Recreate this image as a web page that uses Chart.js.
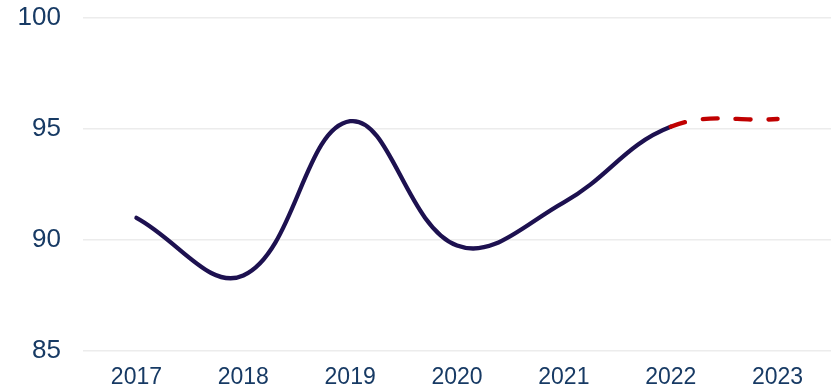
<!DOCTYPE html>
<html>
<head>
<meta charset="utf-8">
<script src="https://cdn.jsdelivr.net/npm/chart.js@4"></script>
<style>
  html, body { margin: 0; padding: 0; background: #ffffff; }
  #wrap { width: 831px; height: 390px; position: relative; }
</style>
</head>
<body>
<div id="wrap"><canvas id="chart"></canvas></div>
<script>
// Index by year; the last segment (2022 → 2023) is a forecast
const years = ['2017', '2018', '2019', '2020', '2021', '2022', '2023'];
const indexValues = [91.0, 88.4, 95.35, 89.75, 91.7, 95.1, 95.45];
const forecastFrom = 5; // index of 2022
const yTicks = [85, 90, 95, 100];

const navy = '#1d1150';
const red = '#c00000';
const textColor = '#173a64';

new Chart(document.getElementById('chart'), {
  type: 'line',
  data: {
    labels: years,
    datasets: [{
      data: indexValues,
      borderColor: navy,
      borderWidth: 4.3,
      borderCapStyle: 'round',
      borderJoinStyle: 'round',
      tension: 0.4,
      pointRadius: 0,
      pointHoverRadius: 0,
      fill: false,
      segment: {
        borderColor: ctx => ctx.p0DataIndex >= forecastFrom ? red : undefined,
        borderDash: ctx => ctx.p0DataIndex >= forecastFrom ? [15, 18] : undefined
      }
    }]
  },
  options: {
    responsive: true,
    maintainAspectRatio: false,
    animation: false,
    layout: { padding: { left: 0, right: 0, top: 18, bottom: 0 } },
    plugins: { legend: { display: false }, tooltip: { enabled: false } },
    scales: {
      x: {
        offset: true,
        grid: { display: false, drawTicks: false },
        border: { display: false },
        ticks: {
          color: textColor,
          font: { family: 'Liberation Sans, Arial, sans-serif', size: 23 },
          padding: 13,
          maxRotation: 0
        },
        afterFit: scale => {
          scale.height = 39;
          scale.paddingLeft = 0;
          scale.paddingRight = 0;
        }
      },
      y: {
        min: 85,
        max: 100,
        afterBuildTicks: axis => { axis.ticks = yTicks.map(v => ({ value: v })); },
        grid: { color: '#ececec', lineWidth: 1.5, drawTicks: false },
        border: { display: false },
        ticks: {
          color: textColor,
          font: { family: 'Liberation Sans, Arial, sans-serif', size: 26 },
          padding: 22
        },
        afterFit: scale => {
          scale.width = 83;
          scale.paddingTop = 0;
          scale.paddingBottom = 0;
        }
      }
    }
  }
});
</script>
</body>
</html>
